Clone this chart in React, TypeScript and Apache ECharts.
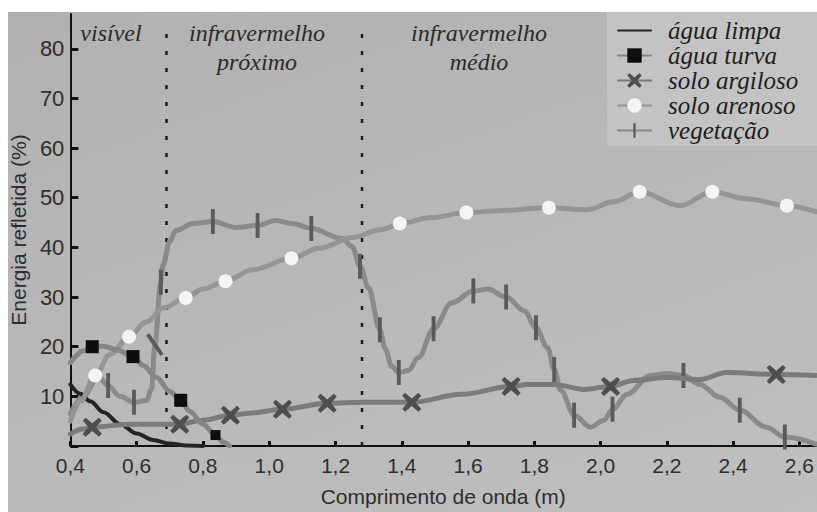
import React, { useEffect, useRef } from 'react';
import * as echarts from 'echarts';

type Pt = [number, number];

// ---- data (wavelength in µm, reflectance in %) ----
const seriesNames = ['água limpa', 'água turva', 'solo argiloso', 'solo arenoso', 'vegetação'];
const regionLabels = ['visível', 'infravermelho\npróximo', 'infravermelho\nmédio'];
const regionBoundaries = [0.69, 1.28];
const yAxisTop = 87;
const xAxisMax = 2.65;

const aguaLimpa: Pt[] = [
  [0.4, 12.4], [0.43, 10.5], [0.46, 9], [0.5, 6.8], [0.55, 4.4], [0.6, 2.5],
  [0.65, 1.2], [0.7, 0.5], [0.75, 0.1], [0.8, 0],
];

const aguaTurvaLine: Pt[] = [
  [0.4, 16.8], [0.44, 19.2], [0.5, 20.1], [0.54, 19.4], [0.62, 16.2], [0.66, 13.8],
  [0.7, 11], [0.76, 7], [0.8, 4.4], [0.86, 0.8], [0.88, 0],
];
const aguaTurvaMarks: Pt[] = [[0.466, 20], [0.589, 18], [0.733, 9.2], [0.838, 2.2]];

const argilosoLine: Pt[] = [
  [0.4, 2.4], [0.439, 3.4], [0.58, 4.4], [0.8, 5.2], [0.94, 6.6], [1.28, 8.8],
  [1.58, 10.4], [1.78, 12.4], [1.86, 12.4], [1.95, 11.4], [2.1, 13.2], [2.2, 13.8],
  [2.3, 13.4], [2.38, 14.8], [2.65, 14.2],
];
const argilosoMarks: Pt[] = [
  [0.466, 3.8], [0.73, 4.4], [0.883, 6.2], [1.04, 7.4], [1.175, 8.6], [1.43, 8.8],
  [1.73, 12], [2.03, 12], [2.53, 14.4],
];

const arenosoLine: Pt[] = [
  [0.4, 5], [0.43, 9], [0.52, 18.5], [0.63, 25], [0.68, 27.8], [0.8, 31.6], [0.95, 35.5],
  [1.15, 39.8], [1.25, 42], [1.34, 43.6], [1.49, 46], [1.69, 47.4], [1.96, 47.6],
  [2.04, 49.2], [2.24, 48.4], [2.44, 49.8], [2.65, 47.2],
];
const arenosoMarks: Pt[] = [
  [0.475, 14.2], [0.577, 22], [0.748, 29.8], [0.868, 33.2], [1.067, 37.8], [1.394, 44.8],
  [1.595, 47], [1.844, 48], [2.118, 51.2], [2.337, 51.2], [2.562, 48.4],
];

const vegetacaoLine: Pt[] = [
  [0.4, 6.5], [0.44, 10], [0.484, 14], [0.55, 10], [0.63, 9.2], [0.645, 11.5],
  [0.679, 36.4], [0.7, 41.2], [0.718, 43.4], [0.77, 44.8], [0.9, 44], [1.019, 45.4],
  [1.07, 44.8], [1.22, 41.8], [1.25, 40.2], [1.3, 31.8], [1.35, 19.6], [1.37, 16],
  [1.42, 15.2], [1.45, 17.8], [1.55, 28.8], [1.66, 31.6], [1.77, 27.2], [1.84, 19.8],
  [1.88, 11.2], [1.97, 3.8], [2.01, 5.2], [2.08, 10.4], [2.15, 14.2], [2.2, 14.6],
  [2.3, 12.4], [2.36, 9.8], [2.5, 3.8], [2.65, 0.4],
];
const vegetacaoMarks: Pt[] = [
  [0.514, 12.2], [0.592, 8.8], [0.655, 20.4], [0.673, 33], [0.83, 45.2], [0.965, 44.4],
  [1.127, 43.8], [1.274, 36.2], [1.334, 23.4], [1.391, 14.8], [1.496, 23.6], [1.616, 31.2],
  [1.715, 30], [1.805, 23.8], [1.86, 15.4], [1.92, 6.2], [2.036, 7.4], [2.25, 14.2],
  [2.42, 7.2], [2.556, 1.8],
];

// ---- helpers ----
function buildData(line: Pt[], marks: Pt[], extra?: (i: number) => Record<string, unknown>) {
  const items: any[] = [
    ...line.map((p) => ({ value: p, symbol: 'none' })),
    ...marks.map((p, i) => ({ value: p, ...(extra ? extra(i) : {}) })),
  ];
  items.sort((a, b) => a.value[0] - b.value[0]);
  return items;
}

const X_SYMBOL =
  'path://M3,0 L10,6 L17,0 L20,3 L14,10 L20,17 L17,20 L10,14 L3,20 L0,17 L6,10 L0,3 Z';
// a vertical bar inside a square box (tiny corner sub-paths keep the box square)
const TICK_SYMBOL =
  'path://M0,13 L0.01,13.01 L0,13.02 Z M11,0 L15,0 L15,26 L11,26 Z M26,13 L25.99,13.01 L26,13.02 Z';

const SANS = 'Liberation Sans';
const SERIF = 'Liberation Serif';

export default function App() {
  const ref = useRef<HTMLDivElement>(null);

  useEffect(() => {
    document.body.style.margin = '0';
    if (!ref.current) return;
    const chart = echarts.init(ref.current, undefined, { renderer: 'svg' });

    const lineBase = (name: string, color: string, width: number) => ({
      name,
      type: 'line',
      smooth: 0.35,
      smoothMonotone: 'x',
      showSymbol: true,
      showAllSymbol: true,
      lineStyle: { color, width, cap: 'round', join: 'round' },
      emphasis: { disabled: true },
      silent: true,
    });

    const boundarySeries = regionBoundaries.map((b) => ({
      type: 'line',
      data: [[b, 0], [b, 84.8]],
      symbol: 'none',
      silent: true,
      lineStyle: { color: '#1c1c1c', width: 2.5, type: [4, 13] },
      z: 1,
    }));

    const regionText = (text: string, x: number, y: number) => ({
      type: 'text',
      silent: true,
      x,
      y,
      style: {
        text,
        font: `italic 24px ${SERIF}`,
        lineHeight: 29,
        fill: '#2b2b2b',
        align: 'center',
        verticalAlign: 'middle',
      },
    });

    chart.setOption({
      animation: false,
      backgroundColor: 'transparent',
      grid: { left: 67, right: 1, top: 14, bottom: 63 },
      xAxis: {
        type: 'value',
        min: 0.4,
        max: xAxisMax,
        interval: 0.2,
        splitLine: { show: false },
        axisLine: { show: true, lineStyle: { color: '#111', width: 2 } },
        axisTick: { show: true, inside: true, length: 5, lineStyle: { color: '#111', width: 3 } },
        axisLabel: {
          showMaxLabel: false,
          fontFamily: SANS,
          fontSize: 21,
          color: '#2e2e2e',
          margin: 9,
          formatter: (v: number) => (v > 2.61 ? '' : v.toFixed(1).replace('.', ',')),
        },
        name: 'Comprimento de onda (m)',
        nameLocation: 'middle',
        nameGap: 40,
        nameTextStyle: { fontFamily: SANS, fontSize: 21, color: '#2e2e2e' },
      },
      yAxis: {
        type: 'value',
        min: 0,
        max: yAxisTop,
        interval: 10,
        splitLine: { show: false },
        axisLine: { show: true, lineStyle: { color: '#111', width: 2 } },
        axisTick: { show: true, inside: true, length: 8, lineStyle: { color: '#111', width: 3 } },
        axisLabel: {
          showMaxLabel: false,
          fontFamily: SANS,
          fontSize: 22,
          color: '#2e2e2e',
          margin: 6,
          formatter: (v: number) => (v === 0 ? '' : String(v)),
        },
        name: 'Energia refletida (%)',
        nameLocation: 'middle',
        nameGap: 37,
        nameTextStyle: { fontFamily: SANS, fontSize: 21, color: '#2e2e2e' },
      },
      legend: {
        data: seriesNames,
        orient: 'vertical',
        left: 617,
        top: 18,
        padding: 0,
        itemWidth: 33,
        itemHeight: 18,
        itemGap: 0,
        selectedMode: false,
        textStyle: {
          fontFamily: SERIF,
          fontStyle: 'italic',
          fontSize: 25,
          lineHeight: 25,
          color: '#1e1e1e',
          padding: [0, 0, 0, 12],
        },
      },
      graphic: [
        {
          type: 'rect',
          z: -10,
          silent: true,
          shape: { x: 607, y: 12, width: 210, height: 134 },
          style: { fill: '#c3c3c3' },
        },
        regionText(regionLabels[0], 111, 33),
        regionText(regionLabels[1], 257, 47),
        regionText(regionLabels[2], 479, 47),
      ],
      series: [
        ...boundarySeries,
        {
          ...lineBase(seriesNames[0], '#242424', 4),
          symbol: 'none',
          showSymbol: false,
          itemStyle: { color: 'transparent', borderWidth: 0 },
          data: aguaLimpa,
          z: 3,
        },
        {
          ...lineBase(seriesNames[1], '#868686', 5),
          symbol: 'rect',
          symbolSize: 13,
          itemStyle: { color: '#0e0e0e', borderWidth: 0 },
          data: buildData(aguaTurvaLine, aguaTurvaMarks, (i) => (i === 3 ? { symbolSize: 10 } : {})),
          z: 4,
        },
        {
          ...lineBase(seriesNames[2], '#7b7b7b', 5),
          symbol: X_SYMBOL,
          symbolSize: 19,
          itemStyle: { color: '#4e4e4e', borderWidth: 0 },
          data: buildData(argilosoLine, argilosoMarks),
          z: 3,
        },
        {
          ...lineBase(seriesNames[3], '#959595', 5),
          symbol: 'circle',
          symbolSize: 14,
          itemStyle: { color: '#f4f4f4', borderWidth: 0 },
          data: buildData(arenosoLine, arenosoMarks),
          z: 3,
        },
        {
          ...lineBase(seriesNames[4], '#8a8a8a', 5),
          symbol: TICK_SYMBOL,
          symbolSize: 25,
          itemStyle: { color: '#5a5a5a', borderWidth: 0 },
          data: buildData(vegetacaoLine, vegetacaoMarks, (i) => (i === 2 ? { symbolRotate: 35 } : {})),
          z: 2,
        },
      ],
    });

    return () => chart.dispose();
  }, []);

  return (
    <div style={{ position: 'relative', width: 817, height: 512, background: '#ffffff', overflow: 'hidden' }}>
      <div
        style={{
          position: 'absolute',
          left: 8,
          top: 12,
          width: 809,
          height: 500,
          background: 'linear-gradient(160deg, #b1b1b1 0%, #b8b8b8 50%, #bfbfbf 100%)',
        }}
      />
      <div ref={ref} style={{ position: 'absolute', left: 0, top: 0, width: 817, height: 512 }} />
    </div>
  );
}
